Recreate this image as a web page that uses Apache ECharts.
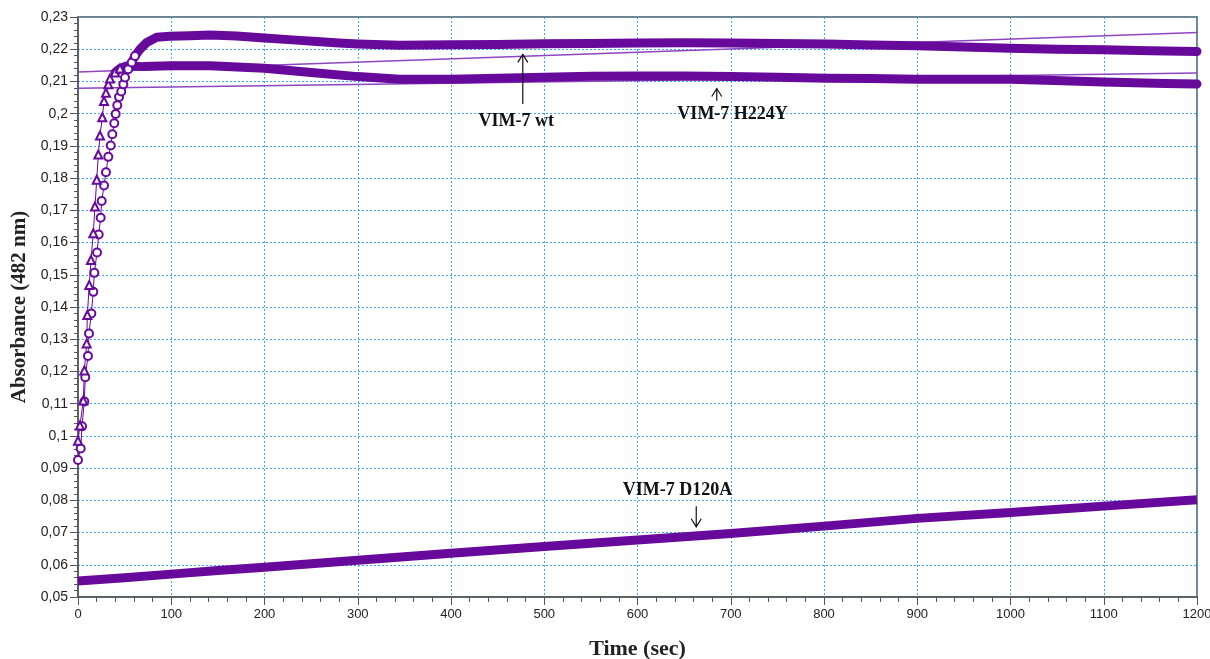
<!DOCTYPE html>
<html>
<head>
<meta charset="utf-8">
<script src="https://cdn.jsdelivr.net/npm/echarts@6/dist/echarts.min.js"></script>
<style>
  html, body { margin: 0; padding: 0; background: #fff; }
  #chart { width: 1210px; height: 659px; }
</style>
</head>
<body>
<div id="chart"></div>
<script>
// time (sec) and absorbance (482 nm)
const timeWt = [0, 2.9, 4.3, 6.8, 7.8, 10.7, 11.8, 14.3, 16.4, 17.5, 20.4, 22.2, 24.3, 25.4, 27.9,
  30.0, 32.5, 35.1, 36.8, 38.9, 40.4, 42.1, 44.0, 46.4, 48.6, 50.4,
  53.9, 57.6, 61.1, 66.5, 73.7, 84.4, 98.7,
  120, 141.6, 170, 200, 230, 256, 280, 300, 345, 400,
  450, 500, 550, 600, 650, 700, 750, 803, 850, 900, 950, 1000, 1050, 1100, 1150, 1200];
const absWt = [0.0925, 0.0961, 0.1030, 0.1107, 0.1182, 0.1248, 0.1318, 0.1380, 0.1447, 0.1506, 0.1569, 0.1625, 0.1677, 0.1729, 0.1777,
  0.1818, 0.1866, 0.1901, 0.1936, 0.1970, 0.1999, 0.2026, 0.2052, 0.2069, 0.2091, 0.2112,
  0.2138, 0.2159, 0.2179, 0.2200, 0.2221, 0.2237, 0.2240,
  0.2242, 0.2244, 0.2241, 0.2235, 0.2229, 0.2224, 0.2219, 0.2216, 0.2212, 0.2214,
  0.2215, 0.2217, 0.2218, 0.2219, 0.2220, 0.2219, 0.2218, 0.2216, 0.2213, 0.2211, 0.2207, 0.2203, 0.2200, 0.2198, 0.2195, 0.2193];

const timeH224Y = [0, 2.1, 5.7, 6.8, 9.3, 10.0, 12.1, 13.9, 16.4, 18.2, 20.1, 21.8, 23.6, 26.1, 27.9,
  30.0, 32.5, 34.3, 39.7, 45.0, 52.2,
  70, 100, 141.6, 200, 256, 300, 345, 400, 450, 500, 550, 600, 650, 700, 750, 803,
  850, 900, 950, 1000, 1056, 1100, 1166, 1200];
const absH224Y = [0.0985, 0.1032, 0.1110, 0.1203, 0.1287, 0.1375, 0.1468, 0.1546, 0.1629, 0.1712, 0.1795, 0.1873, 0.1932, 0.1989, 0.2039,
  0.2065, 0.2091, 0.2109, 0.2128, 0.2140, 0.2148,
  0.2146, 0.2149, 0.2149, 0.2141, 0.2126, 0.2115, 0.2107, 0.2107, 0.2110, 0.2113, 0.2116, 0.2117, 0.2117, 0.2115, 0.2113, 0.2110,
  0.2109, 0.2107, 0.2107, 0.2107, 0.2102, 0.2098, 0.2094, 0.2092];

const timeD120A = [0, 50, 100, 150, 200, 300, 400, 500, 600, 700, 800, 900, 1000, 1100, 1200];
const absD120A = [0.0550, 0.0560, 0.0571, 0.0582, 0.0592, 0.0614, 0.0636, 0.0657, 0.0677, 0.0697, 0.0720, 0.0744, 0.0762, 0.0782, 0.0802];

// straight fit lines drawn over the two plateaus
const fitTime = [0, 1200];
const fitWt = [0.2129, 0.2252];
const fitH224Y = [0.2079, 0.2126];

// labels with arrows, anchored in data units
const labels = [
  { text: 'VIM-7 wt', at: [470, 0.1976], from: [477, 0.2030], to: [477, 0.2184] },
  { text: 'VIM-7 H224Y', at: [702, 0.1998], from: [685, 0.2040], to: [685, 0.2078] },
  { text: 'VIM-7 D120A', at: [643, 0.0830], from: [663, 0.0782], to: [663, 0.0718] }
];

const PURPLE = '#670a9c';
const FIT = '#8d45c0';
const pairs = (ts, vs) => ts.map((t, i) => [t, vs[i]]);
const wtData = pairs(timeWt, absWt);
const hData = pairs(timeH224Y, absH224Y);

const chart = echarts.init(document.getElementById('chart'));

const option = {
  animation: false,
  backgroundColor: '#fff',
  grid: {
    left: 78, right: 13, top: 17, bottom: 62,
    outerBoundsMode: 'none',
    show: true, borderColor: '#555', borderWidth: 1.5
  },
  xAxis: {
    type: 'value',
    min: 0, max: 1200, interval: 100,
    name: 'Time (sec)',
    nameLocation: 'middle',
    nameGap: 41,
    nameTextStyle: { fontFamily: 'Liberation Serif', fontWeight: 'bold', fontSize: 22, color: '#222' },
    axisLine: { lineStyle: { color: '#555', width: 1.5 } },
    axisTick: { length: 8, lineStyle: { color: '#555' } },
    minorTick: { show: true, splitNumber: 5, length: 5, lineStyle: { color: '#555' } },
    axisLabel: {
      margin: 11, fontFamily: 'Liberation Sans', fontSize: 13, color: '#222',
      formatter: v => String(v)
    },
    splitLine: { lineStyle: { color: '#3aa6f2', type: [2, 2], width: 1 } }
  },
  yAxis: {
    type: 'value',
    min: 0.05, max: 0.23, interval: 0.01,
    name: 'Absorbance (482 nm)',
    nameLocation: 'middle',
    nameGap: 43,
    nameTextStyle: { fontFamily: 'Liberation Serif', fontWeight: 'bold', fontSize: 21, color: '#222' },
    axisLine: { lineStyle: { color: '#555', width: 1.5 } },
    axisTick: { length: 8, lineStyle: { color: '#555' } },
    minorTick: { show: true, splitNumber: 5, length: 4, lineStyle: { color: '#555' } },
    axisLabel: {
      margin: 10, fontFamily: 'Liberation Sans', fontSize: 14, color: '#222',
      formatter: v => String(Math.round(v * 100) / 100).replace('.', ',')
    },
    splitLine: { lineStyle: { color: '#3aa6f2', type: [2, 2], width: 1 } }
  },
  series: [
    {
      name: 'fit wt', type: 'line', z: 2, symbol: 'none',
      data: pairs(fitTime, fitWt),
      lineStyle: { color: FIT, width: 1.5 }
    },
    {
      name: 'fit H224Y', type: 'line', z: 2, symbol: 'none',
      data: pairs(fitTime, fitH224Y),
      lineStyle: { color: FIT, width: 1.5 }
    },
    {
      name: 'VIM-7 wt band', type: 'line', z: 3, symbol: 'none',
      data: wtData.slice(26),
      lineStyle: { color: PURPLE, width: 9, cap: 'round', join: 'round' }
    },
    {
      name: 'VIM-7 H224Y band', type: 'line', z: 3, symbol: 'none',
      data: hData.slice(18),
      lineStyle: { color: PURPLE, width: 9, cap: 'round', join: 'round' }
    },
    {
      name: 'VIM-7 D120A', type: 'line', z: 3, symbol: 'none',
      data: pairs(timeD120A, absD120A),
      lineStyle: { color: PURPLE, width: 9, cap: 'butt', join: 'round' }
    },
    {
      name: 'VIM-7 wt', type: 'line', z: 4,
      data: wtData.slice(0, 29),
      symbol: 'emptyCircle', symbolSize: 8, showAllSymbol: true,
      itemStyle: { color: PURPLE, borderColor: PURPLE, borderWidth: 1.5 },
      lineStyle: { color: PURPLE, width: 1 }
    },
    {
      name: 'VIM-7 H224Y', type: 'line', z: 4,
      data: hData.slice(0, 20),
      symbol: 'emptyTriangle', symbolSize: 8, showAllSymbol: true,
      itemStyle: { color: PURPLE, borderColor: PURPLE, borderWidth: 1.3 },
      lineStyle: { color: PURPLE, width: 1 }
    }
  ]
};

chart.setOption(option);

// annotations placed through the axes
const graphic = [];
labels.forEach(l => {
  const p = chart.convertToPixel({ gridIndex: 0 }, l.at);
  const a = chart.convertToPixel({ gridIndex: 0 }, l.from);
  const b = chart.convertToPixel({ gridIndex: 0 }, l.to);
  const dir = b[1] < a[1] ? 1 : -1;
  graphic.push({
    type: 'text', x: p[0], y: p[1], z: 10,
    style: {
      text: l.text, fill: '#111', align: 'center', verticalAlign: 'middle',
      font: 'bold 18px "Liberation Serif"'
    }
  });
  graphic.push({
    type: 'polyline', z: 10,
    shape: { points: [a, b] },
    style: { stroke: '#111', lineWidth: 1.2, fill: null }
  });
  graphic.push({
    type: 'polyline', z: 10,
    shape: { points: [[b[0] - 5, b[1] + 8 * dir], b, [b[0] + 5, b[1] + 8 * dir]] },
    style: { stroke: '#111', lineWidth: 1.2, fill: null }
  });
});
chart.setOption({ graphic: graphic });
</script>
</body>
</html>
